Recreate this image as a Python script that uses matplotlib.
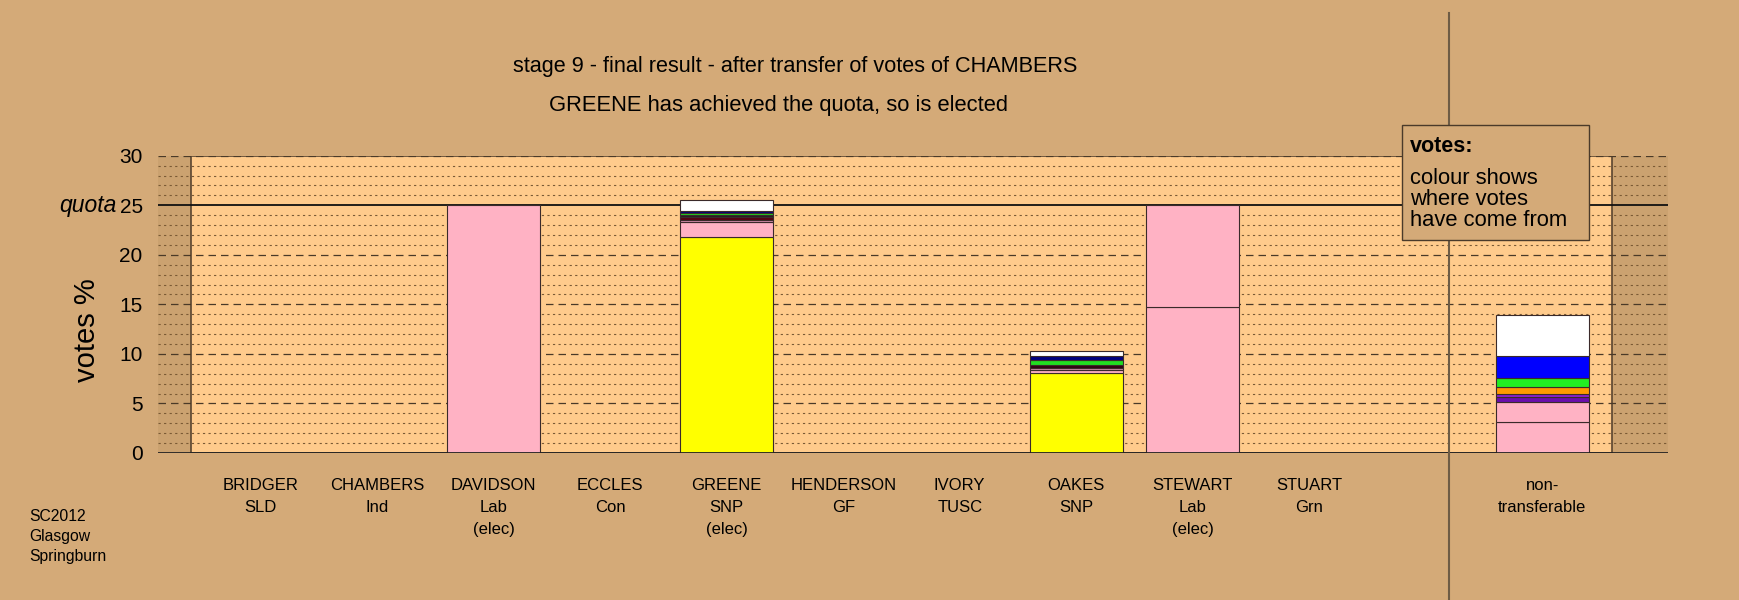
import matplotlib
matplotlib.use("Agg")
import matplotlib.pyplot as plt
import matplotlib.transforms as mtransforms
from matplotlib.patches import Rectangle
from matplotlib.lines import Line2D

plt.rcParams['font.family'] = ['Liberation Sans', 'DejaVu Sans']

# -------------------------------
# data (stage 9, votes %)
# -------------------------------
labels = ['BRIDGER\nSLD', 'CHAMBERS\nInd', 'DAVIDSON\nLab\n(elec)', 'ECCLES\nCon',
          'GREENE\nSNP\n(elec)', 'HENDERSON\nGF', 'IVORY\nTUSC', 'OAKES\nSNP',
          'STEWART\nLab\n(elec)', 'STUART\nGrn', 'non-\ntransferable']
positions = [0, 1, 2, 3, 4, 5, 6, 7, 8, 9, 11]

quota = 25.0

# stacked pieces per bar (bottom to top) and where they came from
davidson_votes = [25.0]
davidson_cols = ['#FFB2C4']

greene_votes = [21.8, 1.56, 0.15, 0.35, 0.15, 0.2, 0.2, 1.15]
greene_cols = ['#FFFF00', '#FFB2C4', '#D890B0', '#550011', '#222222', '#22DD22', '#000080', '#FFFFFF']

oakes_votes = [8.06, 0.35, 0.15, 0.35, 0.46, 0.4, 0.55]
oakes_cols = ['#FFFF00', '#FFB2C4', '#D890B0', '#330011', '#22DD22', '#000080', '#FFFFFF']

stewart_votes = [14.75, 10.25]
stewart_cols = ['#FFB2C4', '#FFB2C4']

nontrans_votes = [3.15, 2.04, 0.42, 0.33, 0.74, 0.84, 2.28, 4.17]
nontrans_cols = ['#FFB2C4', '#FFB2C4', '#6A0DAD', '#8A1FD0', '#FF9900', '#22EE22', '#0000FF', '#FFFFFF']

stacks = [(2, davidson_votes, davidson_cols),
          (4, greene_votes, greene_cols),
          (7, oakes_votes, oakes_cols),
          (8, stewart_votes, stewart_cols),
          (11, nontrans_votes, nontrans_cols)]

# -------------------------------
# figure
# -------------------------------
bg = '#D4AA78'
fig = plt.figure(figsize=(17.4, 6), dpi=100, facecolor=bg)
W, H = 1740, 600
ax = fig.add_axes([158 / W, 1 - 453 / H, (1668 - 158) / W, (453 - 155.7) / H])
ax.set_facecolor('#CBA270')
ax.set_xlim(-0.882, 12.08)
ax.set_ylim(0, 30)
for s in ax.spines.values():
    s.set_visible(False)

# light area behind the candidates
ax.add_patch(Rectangle((-0.6, 0), 12.2, 30, facecolor='#FFCB8C', edgecolor='#5a4530',
                       lw=1.2, zorder=0.5))

# grid lines
for v in range(1, 30):
    if v % 5 == 0:
        if v == 25:
            continue
        ax.axhline(v, color='#4a3a28', lw=0.9, ls=(0, (6, 4)), zorder=1)
    else:
        ax.axhline(v, color='#7a5a35', lw=0.8, ls=(0, (2, 3)), zorder=1)
ax.axhline(30, color='#4a3a28', lw=0.9, ls=(0, (6, 4)), zorder=1)
ax.axhline(quota, color='#111111', lw=1.3, zorder=1)
ax.axhline(0, color='#222222', lw=2, zorder=3)

# bars
for x, votes, cols in stacks:
    bottom = 0
    for v, c in zip(votes, cols):
        ax.bar(x, v, bottom=bottom, width=0.8, color=c, edgecolor='#3a2a2a', lw=0.8, zorder=2)
        bottom += v

# y axis
ax.set_yticks([0, 5, 10, 15, 20, 25, 30])
ax.set_yticklabels(['0', '5', '10', '15', '20', '25', '30'], fontsize=15)
ax.tick_params(axis='y', length=0, pad=11)
ax.set_xticks([])
ax.text(-1.24, quota, 'quota', fontsize=16.5, style='italic', ha='right', va='center')
fig.text(87 / W, 1 - 330 / H, 'votes %', fontsize=21, rotation=90, ha='center', va='center')

# candidate labels
trans = mtransforms.blended_transform_factory(ax.transData, fig.transFigure)
for x, lab in zip(positions, labels):
    ax.text(x, 1 - 478 / H, lab, transform=trans, ha='center', va='top',
            fontsize=12, linespacing=1.6)

# titles
fig.text(795 / W, 1 - 66.5 / H, 'stage 9 - final result - after transfer of votes of CHAMBERS',
         fontsize=15.6, ha='center', va='center')
fig.text(779 / W, 1 - 105 / H, 'GREENE has achieved the quota, so is elected',
         fontsize=15.8, ha='center', va='center')

fig.text(29 / W, 1 - 509 / H, 'SC2012\nGlasgow\nSpringburn', fontsize=11.3, ha='left', va='top',
         linespacing=1.4)

# separator for non-transferable
fig.add_artist(Line2D([10.2, 10.2], [1 - 13 / H, 0], transform=trans, color='#6e5c45', lw=1.5,
                      zorder=4))

# explanation box
fig.add_artist(Rectangle((1402 / W, 1 - 240 / H), (1589 - 1402) / W, (240 - 125) / H,
                         transform=fig.transFigure, facecolor=bg, edgecolor='#4a3a2a',
                         lw=1, zorder=5))
fig.text(1410 / W, 1 - 147 / H, 'votes:', fontsize=15.5, fontweight='bold', va='center', zorder=6)
for i, line in enumerate(['colour shows', 'where votes', 'have come from']):
    fig.text(1410 / W, 1 - (179 + 20.5 * i) / H, line, fontsize=15.8, va='center', zorder=6)

fig.savefig('out.png', dpi=100, facecolor=bg)
